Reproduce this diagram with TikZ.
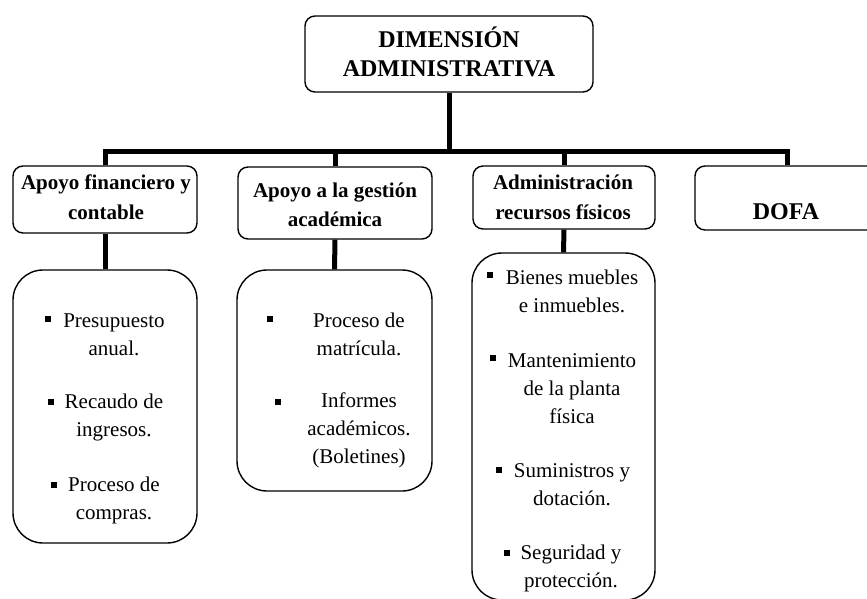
\documentclass[tikz,border=0pt]{standalone}
\usepackage{fontspec}
\setmainfont{Liberation Serif}
\begin{document}
\begin{tikzpicture}[x=1pt,y=-1pt,
  conn/.style={line width=5pt},
  hbox/.style={draw, line width=1.4pt, rounded corners=10pt, inner sep=0pt},
  lbox/.style={draw, line width=1.4pt, rounded corners=30pt, inner sep=0pt},
  htext/.style={align=center, font=\fontsize{21}{29.5}\selectfont\bfseries, inner sep=0pt},
  ttext/.style={align=center, font=\fontsize{24}{29}\selectfont\bfseries, inner sep=0pt},
  ltext/.style={align=center, font=\fontsize{21}{28}\selectfont, inner sep=0pt},
  bul/.style={fill=black, minimum size=6pt, inner sep=0pt}]
\useasboundingbox (0,0) rectangle (867,598);

% top
\node[hbox, minimum width=288pt, minimum height=76pt] (top) at (449,54) {};
\node[ttext] (toptxt) at (449,52) {DIMENSIÓN\\ADMINISTRATIVA};

% headers
\node[hbox, minimum width=184pt, minimum height=67pt] (h1) at (105,199.5) {};
\node[htext] (h1t) at (106,197) {Apoyo financiero y\\contable};
\node[hbox, minimum width=194pt, minimum height=72pt] (h2) at (335,203) {};
\node[htext] (h2t) at (335,205) {Apoyo a la gestión\\académica};
\node[hbox, minimum width=182pt, minimum height=63pt] (h3) at (564,197.5) {};
\node[htext] (h3t) at (563,197.5) {Administración\\recursos físicos};
\node[hbox, minimum width=185pt, minimum height=64pt] (h4) at (787.5,198) {};
\node[ttext] (h4t) at (786,212) {DOFA};

% list boxes
\node[lbox, minimum width=184pt, minimum height=273pt] (l1) at (105,406.5) {};
\node[lbox, minimum width=195pt, minimum height=221pt] (l2) at (334.5,380.5) {};
\node[lbox, minimum width=183pt, minimum height=347pt] (l3) at (563.5,426.5) {};

% bus coordinates
\coordinate (b1) at (105,151);
\coordinate (b2) at (335,151);
\coordinate (b3) at (564,151);
\coordinate (b4) at (787.5,151);
\coordinate (bt) at (449,151);

\draw[conn] (h1.north) -- (b1) -- (b4) -- (h4.north);
\draw[conn] (top.south) -- (bt);
\draw[conn] (b2) -- (h2.north);
\draw[conn] (b3) -- (h3.north);
\draw[conn] (h1.south) -- (l1.north);
\draw[conn] (h2.south) -- (l2.north);
\draw[conn] (h3.south) -- (l3.north);

% list 1
\node[bul] (u11) at (48,319) {};
\node[ltext] (t11) at (114,334.5) {Presupuesto\\anual.};
\node[bul] (u12) at (51,402) {};
\node[ltext] (t12) at (114,417) {Recaudo de\\ingresos.};
\node[bul] (u13) at (54,485) {};
\node[ltext] (t13) at (114,500) {Proceso de\\compras.};

% list 2
\node[bul] (u21) at (270,319) {};
\node[ltext] (t21) at (359,334.5) {Proceso de\\matrícula.};
\node[bul] (u22) at (278,402) {};
\node[ltext] (t22) at (359,430.5) {Informes\\académicos.\\(Boletines)};

% list 3
\node[bul] (u31) at (490,275) {};
\node[ltext] (t31) at (572,291) {Bienes muebles\\e inmuebles.};
\node[bul] (u32) at (493,358) {};
\node[ltext] (t32) at (572,388.5) {Mantenimiento\\de la planta\\física};
\node[bul] (u33) at (499,470) {};
\node[ltext] (t33) at (572,485) {Suministros y\\dotación.};
\node[bul] (u34) at (507,553) {};
\node[ltext] (t34) at (571,568.5) {Seguridad y\\protección.};
\end{tikzpicture}
\end{document}
